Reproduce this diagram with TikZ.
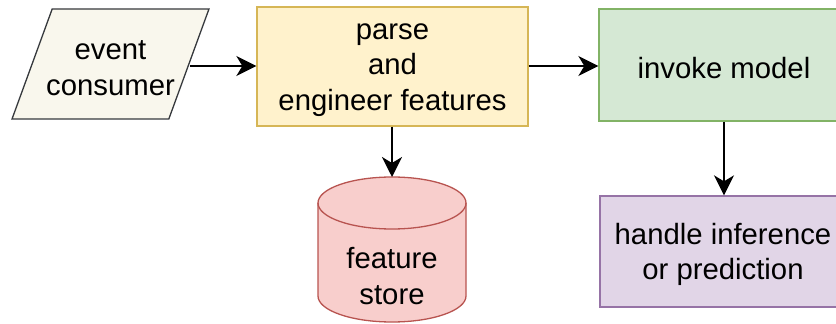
\documentclass[tikz,border=0pt]{standalone}
\usepackage{fontspec}
\setmainfont{Liberation Sans}
\usetikzlibrary{shapes.geometric,arrows.meta}

\definecolor{inFill}{HTML}{F9F7ED}
\definecolor{inLine}{HTML}{36393D}
\definecolor{ylFill}{HTML}{FFF2CC}
\definecolor{ylLine}{HTML}{D6B656}
\definecolor{grFill}{HTML}{D5E8D4}
\definecolor{grLine}{HTML}{82B366}
\definecolor{puFill}{HTML}{E1D5E7}
\definecolor{puLine}{HTML}{9673A6}
\definecolor{rdFill}{HTML}{F8CECC}
\definecolor{rdLine}{HTML}{B85450}

\tikzset{
  lbl/.style={font=\fontsize{29.3}{35.5}\selectfont, align=center, text=black},
  box/.style={lbl, rectangle, draw, line width=1.3pt, inner sep=0pt},
  txt/.style={lbl, inner sep=0pt},
  flow/.style={line width=1.8pt, -{Stealth[length=20pt, width=20pt, inset=6pt]}},
}

\begin{document}
\begin{tikzpicture}[x=1pt, y=1pt]
  \useasboundingbox (0,0) rectangle (836,324);
  \clip (0,0) rectangle (836,324);

  % input
  \node[trapezium, draw=inLine, fill=inFill, line width=1.3pt, inner sep=0pt,
        trapezium left angle=71, trapezium right angle=109,
        trapezium stretches=true, minimum width=197pt, minimum height=110pt]
        (consumer) at (110.5,260) {\rule{20pt}{0pt}\rule{0pt}{20pt}};
  \node[txt] (consumerText) at (110.5,256) {event\\consumer};

  % processing steps
  \node[box, draw=ylLine, fill=ylFill, minimum width=271pt, minimum height=119pt]
        (parse) at (392.5,257.5) {};
  \node[txt] (parseText) at (392.5,254) {parse\\and\\engineer features};
  \node[box, draw=grLine, fill=grFill, minimum width=250pt, minimum height=112pt]
        (invoke) at (724,259) {};
  \node[txt] (invokeText) at (724,256) {invoke model};
  \node[box, draw=puLine, fill=puFill, minimum width=248pt, minimum height=111pt]
        (handle) at (724,72.5) {};
  \node[txt] (handleText) at (723,69.5) {handle inference\\or prediction};

  % feature store cylinder
  \draw[draw=rdLine, fill=rdFill, line width=1.3pt]
    (318,121) -- (318,28)
    arc[start angle=180, end angle=360, x radius=74pt, y radius=26pt]
    -- (466,121)
    arc[start angle=0, end angle=180, x radius=74pt, y radius=26pt] -- cycle;
  \draw[draw=rdLine, line width=1.3pt]
    (318,121) arc[start angle=180, end angle=360, x radius=74pt, y radius=26pt];
  \coordinate (storetop) at (392,147);
  \node[txt] (store) at (392,48) {feature\\store};

  % connectors
  \draw[flow] (consumer.east |- 0,258) -- (parse.west |- 0,258);
  \draw[flow] (parse.east |- 0,258) -- (invoke.west |- 0,258);
  \draw[flow] (parse.south -| storetop) -- (storetop);
  \draw[flow] (invoke.south) -- (handle.north);
\end{tikzpicture}
\end{document}
